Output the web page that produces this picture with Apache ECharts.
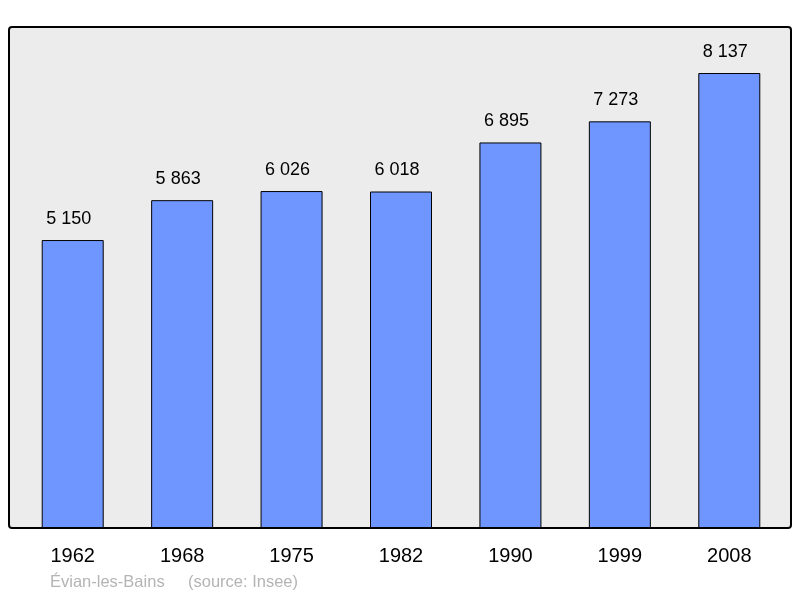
<!DOCTYPE html>
<html>
<head>
<meta charset="utf-8">
<script src="https://cdn.jsdelivr.net/npm/echarts@6/dist/echarts.min.js"></script>
<style>html,body{margin:0;padding:0;background:#fff}#chart{width:800px;height:598px}</style>
</head>
<body>
<div id="chart"></div>
<script>
const years = ['1962', '1968', '1975', '1982', '1990', '1999', '2008'];
const population = [5150, 5863, 6026, 6018, 6895, 7273, 8137];

const chart = echarts.init(document.getElementById('chart'));

const fmt = function (v) {
    return String(v).replace(/\B(?=(\d{3})+(?!\d))/g, ' ');
};

chart.setOption({
    animation: false,
    textStyle: { fontFamily: 'Liberation Sans, Arial, sans-serif' },
    graphic: [{
        type: 'rect',
        z: -10,
        shape: { x: 9, y: 27, width: 782, height: 501, r: 3 },
        style: { fill: '#ececec', stroke: '#000', lineWidth: 2 }
    }, {
        type: 'text',
        left: 50,
        top: 574,
        style: {
            text: 'Évian-les-Bains',
            fill: '#b4b4b4',
            font: '16.5px Liberation Sans, Arial, sans-serif'
        }
    }, {
        type: 'text',
        left: 188,
        top: 574,
        style: {
            text: '(source: Insee)',
            fill: '#b4b4b4',
            font: '16.5px Liberation Sans, Arial, sans-serif'
        }
    }],
    grid: { left: 18, right: 16, top: 27, bottom: 70 },
    xAxis: {
        type: 'category',
        data: years,
        axisLine: { show: false },
        axisTick: { show: false },
        axisLabel: { color: '#000', fontSize: 20, margin: 18 }
    },
    yAxis: {
        type: 'value',
        min: 0,
        max: 8960,
        show: false,
        splitLine: { show: false }
    },
    series: [{
        type: 'bar',
        data: population,
        barWidth: 62,
        itemStyle: { color: '#6f96ff', borderColor: '#000', borderWidth: 1 },
        label: {
            show: true,
            position: 'top',
            distance: 12,
            offset: [-4, 0],
            color: '#000',
            fontSize: 18,
            formatter: function (p) { return fmt(p.value); }
        }
    }]
});
</script>
</body>
</html>
